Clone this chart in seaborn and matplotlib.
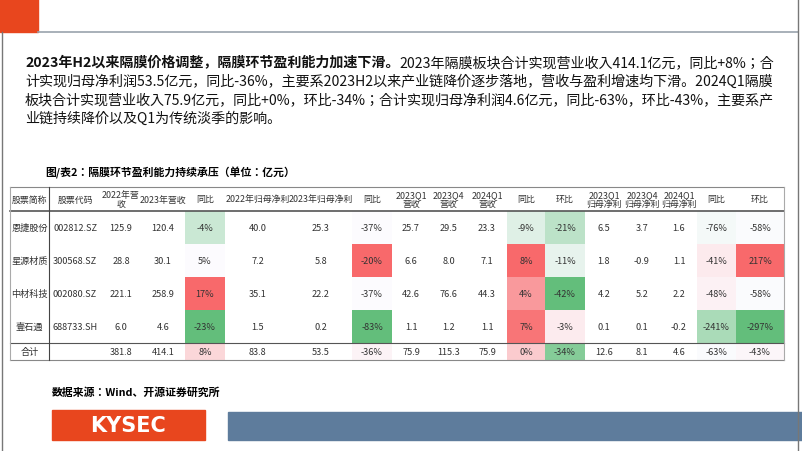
import numpy as np
import pandas as pd
import matplotlib
matplotlib.use("Agg")
import matplotlib.pyplot as plt
from matplotlib.colors import LinearSegmentedColormap
from matplotlib.patches import Rectangle
import seaborn as sns

CJK = ["Noto Sans CJK JP", "Noto Sans CJK SC", "DejaVu Sans"]
plt.rcParams["font.family"] = CJK

# ---------------- data ----------------
names = ['恩捷股份', '星源材质', '中材科技', '壹石通', '合计']
codes = ['002812.SZ', '300568.SZ', '002080.SZ', '688733.SH', '']
rev22 = [125.9, 28.8, 221.1, 6.0, 381.8]
rev23 = [120.4, 30.1, 258.9, 4.6, 414.1]
rev_yoy = [-4, 5, 17, -23, 8]
np22 = [40.0, 7.2, 35.1, 1.5, 83.8]
np23 = [25.3, 5.8, 22.2, 0.2, 53.5]
np_yoy = [-37, -20, -37, -83, -36]
q1_23_rev = [25.7, 6.6, 42.6, 1.1, 75.9]
q4_23_rev = [29.5, 8.0, 76.6, 1.2, 115.3]
q1_24_rev = [23.3, 7.1, 44.3, 1.1, 75.9]
q_rev_yoy = [-9, 8, 4, 7, 0]
q_rev_qoq = [-21, -11, -42, -3, -34]
q1_23_np = [6.5, 1.8, 4.2, 0.1, 12.6]
q4_23_np = [3.7, -0.9, 5.2, 0.1, 8.1]
q1_24_np = [1.6, 1.1, 2.2, -0.2, 4.6]
q_np_yoy = [-76, -41, -48, -241, -63]
q_np_qoq = [-58, 217, -58, -297, -43]

headers = ['股票简称', '股票代码', '2022年营\n收', '2023年营收', '同比', '2022年归母净利',
           '2023年归母净利', '同比', '2023Q1\n营收', '2023Q4\n营收', '2024Q1\n营收', '同比',
           '环比', '2023Q1\n归母净利', '2023Q4\n归母净利', '2024Q1\n归母净利', '同比', '环比']
columns = [names, codes, rev22, rev23, rev_yoy, np22, np23, np_yoy, q1_23_rev, q4_23_rev,
           q1_24_rev, q_rev_yoy, q_rev_qoq, q1_23_np, q4_23_np, q1_24_np, q_np_yoy, q_np_qoq]
# (green end, white point, red end) of each conditional colour scale
color_scale = {4: (-23, 5, 17), 7: (-83, -37, -20), 11: (-30, -4, 8), 12: (-42, -6, 20),
               16: (-400, -60, 100), 17: (-297, -55, 217)}

# ---------------- layout (pixels) ----------------
W, H = 802, 452
col_bounds = [10, 49, 101, 141, 185, 225, 290, 352, 392, 430, 467, 507, 545, 585, 623, 661, 697, 736, 784]
row_bounds = [188, 212, 245, 278, 311, 344, 361]
col_w = np.diff(col_bounds)
row_h = np.diff(row_bounds)

def score(vals, lo, med, hi):
    v = np.array(vals, float)
    s = np.where(v >= med, (v - med) / (hi - med), -(med - v) / (med - lo))
    return np.clip(s, -1, 1)

S = np.full((6, 18), np.nan)
for j, col in enumerate(columns):
    if j in color_scale:
        S[1:, j] = score(col, *color_scale[j])
big = np.repeat(np.repeat(S, row_h, axis=0), col_w, axis=1)

cmap = LinearSegmentedColormap.from_list("xl", ["#63BE7B", "#FCFCFF", "#F8696B"])

fig = plt.figure(figsize=(W / 100, H / 100), dpi=100)
bg = fig.add_axes([0, 0, 1, 1])
bg.set_xlim(0, W); bg.set_ylim(H, 0); bg.axis("off")

# slide decorations
bg.add_patch(Rectangle((0, 0), 38, 33, color="#E8461E"))
bg.plot([38, 798], [33, 33], color="#9aa3ad", lw=1.2)
bg.plot([2, 2], [33, 452], color="#777777", lw=1)
bg.plot([798, 798], [0, 452], color="#777777", lw=1)
bg.add_patch(Rectangle((52, 411), 153, 30, color="#E8461E"))
bg.text(128, 426, "KYSEC", color="white", fontsize=15, fontweight="bold", ha="center", va="center",
        family="DejaVu Sans")
bg.add_patch(Rectangle((228, 413), 574, 28, color="#5E7C9C"))

# paragraph
lines = [
    ("2023年H2以来隔膜价格调整，隔膜环节盈利能力加速下滑。", "2023年隔膜板块合计实现营业收入414.1亿元，同比+8%；合"),
    ("", "计实现归母净利润53.5亿元，同比-36%，主要系2023H2以来产业链降价逐步落地，营收与盈利增速均下滑。2024Q1隔膜"),
    ("", "板块合计实现营业收入75.9亿元，同比+0%，环比-34%；合计实现归母净利润4.6亿元，同比-63%，环比-43%，主要系产"),
    ("", "业链持续降价以及Q1为传统淡季的影响。"),
]
fig.canvas.draw()
rend = fig.canvas.get_renderer()
for i, (b, n) in enumerate(lines):
    y = 63 + i * 18.5
    x = 25
    if b:
        t = bg.text(x, y, b, fontsize=10.1, fontweight="bold", va="center", color="#111111")
        bb = t.get_window_extent(rend)
        x = x + bb.width
    bg.text(x, y, n, fontsize=10.1, va="center", color="#111111")

bg.text(45, 173, "图/表2：隔膜环节盈利能力持续承压（单位：亿元）", fontsize=7.8, fontweight="bold", va="center")
bg.text(52, 393, "数据来源：Wind、开源证券研究所", fontsize=7.8, fontweight="bold", va="center")

# table heatmap
ax = fig.add_axes([col_bounds[0] / W, 1 - row_bounds[-1] / H, (col_bounds[-1] - col_bounds[0]) / W,
                   (row_bounds[-1] - row_bounds[0]) / H])
sns.heatmap(big, ax=ax, cmap=cmap, vmin=-1, vmax=1, cbar=False, xticklabels=False, yticklabels=False)
ax.set_xlim(0, big.shape[1]); ax.set_ylim(big.shape[0], 0)

cx = (np.array(col_bounds[:-1]) + np.array(col_bounds[1:])) / 2 - col_bounds[0]
cy = (np.array(row_bounds[:-1]) + np.array(row_bounds[1:])) / 2 - row_bounds[0]
tc = "#333333"
for j, h in enumerate(headers):
    ax.text(cx[j], cy[0], h, ha="center", va="center", fontsize=6.4, color=tc, linespacing=1.0)
for j, col in enumerate(columns):
    for i, v in enumerate(col):
        if isinstance(v, str):
            s = v
        elif j in color_scale:
            s = f"{v:d}%"
        else:
            s = f"{v:.1f}"
        ax.text(cx[j], cy[i + 1], s, ha="center", va="center", fontsize=6.6, color=tc)

tw = big.shape[1]
def hl(y, lw, c="#555555"):
    ax.plot([0, tw], [y - row_bounds[0]] * 2, color=c, lw=lw, clip_on=False)
hl(row_bounds[0], 0.8, "#888888")
hl(row_bounds[1], 1.2)
hl(row_bounds[5], 0.8)
hl(row_bounds[6], 0.8, "#888888")
for x, c in [(col_bounds[0], "#aaaaaa"), (col_bounds[1], "#444444"), (col_bounds[-1], "#aaaaaa")]:
    ax.plot([x - col_bounds[0]] * 2, [0, row_bounds[-1] - row_bounds[0]], color=c, lw=0.8, clip_on=False)

fig.savefig("out.png", dpi=100)
